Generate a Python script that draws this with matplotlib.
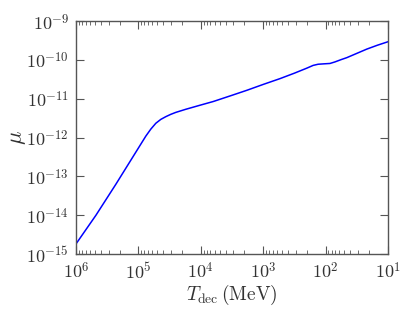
import numpy as np
import matplotlib
matplotlib.use("Agg")
import matplotlib.pyplot as plt
from matplotlib.ticker import LogLocator, NullLocator, NullFormatter, FuncFormatter

plt.rcParams['mathtext.fontset'] = 'cm'
plt.rcParams['font.family'] = 'serif'
plt.rcParams['font.serif'] = ['cmr10', 'DejaVu Serif']
plt.rcParams['axes.unicode_minus'] = False

# Data: log10 of decoupling temperature (MeV) and log10 of mu
log_T_dec = [6.00, 5.68, 5.36, 5.00, 4.88, 4.80, 4.72, 4.64, 4.56, 4.48, 4.40, 4.24,
             4.00, 3.80, 3.50, 3.26, 3.00, 2.73, 2.50, 2.30, 2.20, 2.12, 2.03, 1.93,
             1.85, 1.75, 1.66, 1.50, 1.34, 1.17, 1.00]
log_mu = [-14.74, -14.00, -13.20, -12.27, -11.96, -11.78, -11.63, -11.53, -11.46, -11.40,
          -11.35, -11.27, -11.16, -11.07, -10.91, -10.78, -10.63, -10.48, -10.34, -10.21,
          -10.14, -10.11, -10.10, -10.09, -10.05, -9.99, -9.94, -9.83, -9.72, -9.62, -9.53]

T_dec = 10.0 ** np.array(log_T_dec)
mu = 10.0 ** np.array(log_mu)

fig = plt.figure(figsize=(4.15, 3.11), dpi=100)
ax = fig.add_axes([0.183, 0.183, 0.752, 0.749])

ax.plot(T_dec, mu, color='#0000ff', lw=1.1)

ax.set_xscale('log')
ax.set_yscale('log')
ax.set_xlim(1e6, 1e1)
ax.set_ylim(1e-15, 1e-9)

fmt = FuncFormatter(lambda v, p: r'$10^{%d}$' % int(round(np.log10(v))))
ax.yaxis.set_major_locator(LogLocator(base=10, numticks=10))
ax.yaxis.set_minor_locator(NullLocator())
ax.yaxis.set_major_formatter(fmt)
ax.xaxis.set_major_locator(LogLocator(base=10, numticks=10))
ax.xaxis.set_minor_locator(LogLocator(base=10, subs=np.arange(2, 10), numticks=10))
ax.xaxis.set_minor_formatter(NullFormatter())
ax.xaxis.set_major_formatter(fmt)

for s in ax.spines.values():
    s.set_color('#555555')
    s.set_linewidth(1.0)
ax.tick_params(which='both', direction='in', top=True, right=True, colors='#555555',
               labelcolor='#333333', labelsize=13)
ax.tick_params(which='major', length=6, width=0.8, pad=5)
ax.tick_params(which='minor', length=3, width=0.6)

ax.set_xlabel(r'$T_{\rm dec}\,(\mathrm{MeV})$', fontsize=14, labelpad=1, color='#333333')
ax.set_ylabel(r'$\mu$', fontsize=16, labelpad=-1, color='#333333')

fig.savefig('out.png', dpi=100)
